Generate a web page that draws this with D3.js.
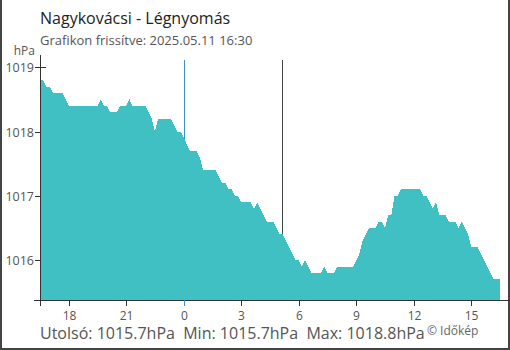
<!DOCTYPE html>
<html><head><meta charset="utf-8">
<script src="https://cdn.jsdelivr.net/npm/d3@7"></script>
<style>
html,body{margin:0;padding:0;background:#fff;}
svg{display:block;font-family:"Open Sans",sans-serif;}
</style></head>
<body><svg id="c" width="510" height="350"></svg>
<script>
const titleText = "Nagykovácsi - Légnyomás";
const subtitleText = "Grafikon frissítve: 2025.05.11 16:30";
const unitLabel = "hPa";
// 10-minute samples from 2025-05-10 16:30 to 2025-05-11 16:30
const startTime = new Date(2025, 4, 10, 16, 30);
const stepMinutes = 10;
const pressure = [
 1018.8,1018.8,1018.7,1018.7,1018.6,1018.6,1018.6,1018.6,1018.5,1018.4,
 1018.4,1018.4,1018.4,1018.4,1018.4,1018.4,1018.4,1018.4,1018.4,1018.5,
 1018.4,1018.4,1018.3,1018.3,1018.3,1018.4,1018.4,1018.4,1018.5,1018.4,
 1018.4,1018.4,1018.4,1018.4,1018.3,1018.2,1018.0,1018.2,1018.2,1018.2,
 1018.2,1018.2,1018.1,1018.0,1018.0,1017.9,1017.8,1017.7,1017.7,1017.7,
 1017.6,1017.4,1017.4,1017.4,1017.4,1017.4,1017.3,1017.2,1017.2,1017.1,
 1017.1,1017.0,1017.0,1016.9,1016.9,1016.9,1016.9,1016.8,1016.9,1016.8,
 1016.7,1016.6,1016.6,1016.6,1016.5,1016.4,1016.4,1016.3,1016.2,1016.1,
 1016.0,1016.0,1015.9,1016.0,1015.9,1015.8,1015.8,1015.8,1015.8,1015.9,
 1015.8,1015.8,1015.8,1015.9,1015.9,1015.9,1015.9,1015.9,1015.9,1016.0,
 1016.1,1016.3,1016.4,1016.5,1016.5,1016.5,1016.6,1016.6,1016.5,1016.7,
 1016.7,1017.0,1017.0,1017.1,1017.1,1017.1,1017.1,1017.1,1017.1,1017.1,
 1017.0,1017.0,1016.9,1016.8,1016.9,1016.7,1016.7,1016.7,1016.6,1016.6,
 1016.6,1016.5,1016.6,1016.5,1016.4,1016.2,1016.2,1016.2,1016.1,1016.0,
 1015.9,1015.8,1015.7,1015.7,1015.7
];
const yTicks = [1016, 1017, 1018, 1019];
const xTickTimes = [
 new Date(2025,4,10,18,0), new Date(2025,4,10,21,0), new Date(2025,4,11,0,0),
 new Date(2025,4,11,3,0), new Date(2025,4,11,6,0), new Date(2025,4,11,9,0),
 new Date(2025,4,11,12,0), new Date(2025,4,11,15,0)
];
const xTickLabels = ["18","21","0","3","6","9","12","15"];
const markerMidnight = new Date(2025,4,11,0,0);
const markerSunrise = new Date(2025,4,11,5,8);
const statLabels = ["Utolsó: ", "Min: ", "Max: "];
const statValues = [1015.7, 1015.7, 1018.8];
const copyrightText = "© Időkép";

const data = pressure.map((v,i)=>({t:new Date(startTime.getTime()+i*stepMinutes*60000), v}));

const svg = d3.select("#c");
const x = d3.scaleTime().domain([data[0].t, data[data.length-1].t]).range([40, 500]);
const y = d3.scaleLinear().domain([1015.38, 1019.19]).range([300, 55]);

// frame
svg.append("line").attr("x1",1).attr("x2",1).attr("y1",0).attr("y2",350).attr("stroke","#444").attr("stroke-width",2);
svg.append("line").attr("x1",509).attr("x2",509).attr("y1",0).attr("y2",350).attr("stroke","#444").attr("stroke-width",2);
svg.append("line").attr("x1",0).attr("x2",510).attr("y1",349).attr("y2",349).attr("stroke","#444").attr("stroke-width",2);

// titles
svg.append("text").attr("x",40).attr("y",24).attr("font-size",16).attr("fill","#222").text(titleText);
svg.append("text").attr("x",40).attr("y",45).attr("font-size",13).attr("fill","#555").text(subtitleText);
svg.append("text").attr("x",35).attr("y",55).attr("text-anchor","end").attr("font-size",12).attr("fill","#555").text(unitLabel);

// y ticks (drawn before area so the area covers their inner part)
const yg = svg.append("g");
yTicks.forEach(t=>{
  const yy = Math.round(y(t))+0.5;
  yg.append("line").attr("x1",35).attr("x2",46).attr("y1",yy).attr("y2",yy).attr("stroke","#333");
  yg.append("text").attr("x",34).attr("y",yy+4.5).attr("text-anchor","end").attr("font-size",12.5).attr("fill","#555").text(t);
});

// vertical markers
svg.append("line").attr("x1",Math.round(x(markerMidnight))+0.5).attr("x2",Math.round(x(markerMidnight))+0.5)
  .attr("y1",60).attr("y2",300).attr("stroke","#3b8fd0");
svg.append("line").attr("x1",Math.round(x(markerSunrise))+0.5).attr("x2",Math.round(x(markerSunrise))+0.5)
  .attr("y1",60).attr("y2",300).attr("stroke","#444");

// area
const area = d3.area().x(d=>x(d.t)).y0(300).y1(d=>y(d.v));
svg.append("path").datum(data).attr("d",area).attr("fill","#40c0c2").attr("shape-rendering","crispEdges");

// y axis line
svg.append("line").attr("x1",40.5).attr("x2",40.5).attr("y1",55).attr("y2",300).attr("stroke","#333");

// x axis
const xg = svg.append("g");
xg.append("line").attr("x1",34).attr("x2",509).attr("y1",300.5).attr("y2",300.5).attr("stroke","#333");
xg.append("line").attr("x1",40.5).attr("x2",40.5).attr("y1",300).attr("y2",306).attr("stroke","#333");
xTickTimes.forEach((t,i)=>{
  const xx = Math.round(x(t))+0.5;
  const col = (t.getTime()===markerMidnight.getTime()) ? "#3b8fd0" : "#333";
  xg.append("line").attr("x1",xx).attr("x2",xx).attr("y1",300).attr("y2",306).attr("stroke",col);
  xg.append("text").attr("x",xx).attr("y",319.5).attr("text-anchor","middle").attr("font-size",12).attr("fill","#555").text(xTickLabels[i]);
});

// stats
const st = svg.append("text").attr("x",40).attr("y",339).attr("font-size",16).attr("fill","#555").style("white-space","pre");
st.text(statLabels.map((l,i)=>l+statValues[i].toFixed(1)+"hPa").join("  "));
svg.append("text").attr("x",427).attr("y",335).attr("font-size",12).attr("fill","#666").text(copyrightText);
</script></body></html>
